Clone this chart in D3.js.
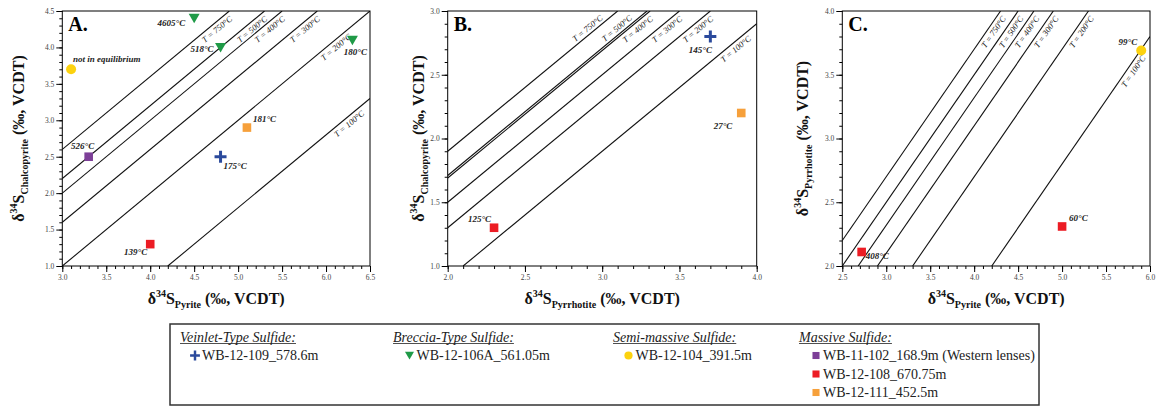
<!DOCTYPE html>
<html>
<head>
<meta charset="utf-8">
<script src="https://cdn.jsdelivr.net/npm/d3@7"></script>
<style>
  body { margin: 0; background: #fff; }
  svg { display: block; font-family: "Liberation Serif", "Times New Roman", serif; }
</style>
</head>
<body>
<div id="chart"></div>
<script>
(function () {
    // ---- panel A : pyrite vs chalcopyrite
    var xTicksA = [3.0, 3.5, 4.0, 4.5, 5.0, 5.5, 6.0, 6.5];
    var yTicksA = [1.0, 1.5, 2.0, 2.5, 3.0, 3.5, 4.0, 4.5];
    var isoTempA = [750, 500, 400, 300, 200, 100];
    var isoDeltaA = [0.4, 0.8, 1.0, 1.4, 2.0, 3.2];
    var labelBackA = [0, 0, 0, 0, 28, 0];
    var pointsA = [
        {x: 3.1, y: 3.7, s: "semi", label: "not in equilibrium"},
        {x: 3.3, y: 2.5, s: "west", label: "526°C"},
        {x: 4.5, y: 4.4, s: "breccia", label: "4605°C"},
        {x: 4.8, y: 4.0, s: "breccia", label: "518°C"},
        {x: 6.3, y: 4.1, s: "breccia", label: "180°C"},
        {x: 4.8, y: 2.5, s: "vein", label: "175°C"},
        {x: 5.1, y: 2.9, s: "wb111", label: "181°C"},
        {x: 4.0, y: 1.3, s: "wb108", label: "139°C"}
    ];
    var labelPosA = [[2, -7, "start"], [-6, -8, "middle"], [-9, 8, "end"], [-7, 5, "end"],
                     [3, 15, "middle"], [3, 12, "start"], [6, -6, "start"], [-3, 11, "end"]];

    // ---- panel B : pyrrhotite vs chalcopyrite
    var xTicksB = [2.0, 2.5, 3.0, 3.5, 4.0];
    var yTicksB = [1.0, 1.5, 2.0, 2.5, 3.0];
    var isoTempB = [750, 500, 400, 300, 200, 100];
    var isoDeltaB = [0.1, 0.29, 0.31, 0.5, 0.7, 1.1];
    var labelSideB = [-1, -1, 1, 1, 1, 1];
    var pointsB = [
        {x: 3.7, y: 2.8, s: "vein", label: "145°C"},
        {x: 3.9, y: 2.2, s: "wb111", label: "27°C"},
        {x: 2.3, y: 1.3, s: "wb108", label: "125°C"}
    ];
    var labelPosB = [[-10, 16, "middle"], [-9, 16, "end"], [-3, -6, "end"]];

    // ---- panel C : pyrite vs pyrrhotite
    var xTicksC = [2.5, 3.0, 3.5, 4.0, 4.5, 5.0, 5.5, 6.0];
    var yTicksC = [2.0, 2.5, 3.0, 3.5, 4.0];
    var isoTempC = [750, 500, 400, 300, 200, 100];
    var isoDeltaC = [0.3, 0.5, 0.68, 0.9, 1.3, 2.2];
    var pointsC = [
        {x: 2.72, y: 2.11, s: "wb108", label: "408°C"},
        {x: 5.0, y: 2.31, s: "wb108", label: "60°C"},
        {x: 5.9, y: 3.69, s: "semi", label: "99°C"}
    ];
    var labelPosC = [[4, 7, "start"], [7, -5, "start"], [-4, -6, "end"]];

    // ---- legend
    var legendHeads = ["Veinlet-Type Sulfide:", "Breccia-Type Sulfide:", "Semi-massive Sulfide:", "Massive Sulfide:"];
    var legendItems = [
        ["vein"], ["breccia"], ["semi"], ["west", "wb108", "wb111"]
    ];
    var seriesNames = {
        vein: "WB-12-109_578.6m",
        breccia: "WB-12-106A_561.05m",
        semi: "WB-12-104_391.5m",
        west: "WB-11-102_168.9m (Western lenses)",
        wb108: "WB-12-108_670.75m",
        wb111: "WB-12-111_452.5m"
    };

    var colors = {
        vein: "#2b4a9c", breccia: "#1f9a47", semi: "#fcd20f",
        west: "#7d3f98", wb108: "#ec1c24", wb111: "#f6a03b"
    };

    var width = 1157, height = 409;

    var svg = d3.select("#chart").append("svg")
        .attr("width", width)
        .attr("height", height);

    function drawMarker(g, s, big) {
        var k = big ? 1 : 0.82;
        if (s === "vein") {
            g.append("path").attr("d", "M" + (-6 * k) + ",0H" + (6 * k) + "M0," + (-6 * k) + "V" + (6 * k))
                .attr("stroke", colors[s]).attr("stroke-width", 3 * k).attr("fill", "none");
        } else if (s === "breccia") {
            g.append("path").attr("d", "M" + (-5.5 * k) + "," + (-4.5 * k) + "L" + (5.5 * k) + "," + (-4.5 * k) + "L0," + (5 * k) + "Z")
                .attr("fill", colors[s]);
        } else if (s === "semi") {
            g.append("circle").attr("r", 5 * k).attr("fill", colors[s]);
        } else {
            g.append("rect").attr("x", -4.3 * k).attr("y", -4.3 * k)
                .attr("width", 8.6 * k).attr("height", 8.6 * k).attr("fill", colors[s]);
        }
    }

    function drawPanel(opt) {
        var x = d3.scaleLinear().domain([opt.xTicks[0], opt.xTicks[opt.xTicks.length - 1]])
            .range([opt.left, opt.right]);
        var y = d3.scaleLinear().domain([opt.yTicks[0], opt.yTicks[opt.yTicks.length - 1]])
            .range([opt.bottom, opt.top]);
        var g = svg.append("g");
        var clipId = "clip" + opt.letter;

        g.append("clipPath").attr("id", clipId).append("rect")
            .attr("x", opt.left).attr("y", opt.top)
            .attr("width", opt.right - opt.left).attr("height", opt.bottom - opt.top);

        // minor + major ticks
        var xd = x.domain(), yd = y.domain();
        var xMinor = d3.range(Math.round(xd[0] * 10), Math.round(xd[1] * 10) + 1).map(function (d) { return d / 10; });
        var yMinor = d3.range(Math.round(yd[0] * 10), Math.round(yd[1] * 10) + 1).map(function (d) { return d / 10; });

        function styleAxis(sel) {
            sel.select(".domain").remove();
            sel.selectAll("line").attr("stroke", "#000");
            sel.selectAll("text").attr("fill", "#444").style("font-size", "7.5px")
                .style("font-family", "'Liberation Serif', serif");
        }

        g.append("g").attr("transform", "translate(0," + opt.bottom + ")")
            .call(d3.axisBottom(x).tickValues(xMinor).tickSize(3).tickFormat(""))
            .call(styleAxis);
        g.append("g").attr("transform", "translate(0," + opt.bottom + ")")
            .call(d3.axisBottom(x).tickValues(opt.xTicks).tickSize(6).tickPadding(3).tickFormat(d3.format(".1f")))
            .call(styleAxis);
        g.append("g").attr("transform", "translate(" + opt.left + ",0)")
            .call(d3.axisLeft(y).tickValues(yMinor).tickSize(3).tickFormat(""))
            .call(styleAxis);
        g.append("g").attr("transform", "translate(" + opt.left + ",0)")
            .call(d3.axisLeft(y).tickValues(opt.yTicks).tickSize(6).tickPadding(2).tickFormat(d3.format(".1f")))
            .call(styleAxis);

        // isotherms  (y = x - delta)
        var lines = g.append("g").attr("clip-path", "url(#" + clipId + ")");
        opt.isoDelta.forEach(function (dlt, i) {
            var x0 = Math.max(xd[0], yd[0] + dlt), x1 = Math.min(xd[1], yd[1] + dlt);
            var p0 = [x(x0), y(x0 - dlt)], p1 = [x(x1), y(x1 - dlt)];
            lines.append("line")
                .attr("x1", p0[0]).attr("y1", p0[1]).attr("x2", p1[0]).attr("y2", p1[1])
                .attr("stroke", "#111").attr("stroke-width", 1.1);

            var len = Math.hypot(p1[0] - p0[0], p1[1] - p0[1]);
            var u = [(p1[0] - p0[0]) / len, (p1[1] - p0[1]) / len];
            var n = [-u[1], u[0]];
            var side = opt.labelSide ? opt.labelSide[i] : 1;
            var atTop = (yd[1] + dlt) <= xd[1];
            var back = atTop ? (side > 0 ? 3 : 16) : opt.rightBack;
            if (opt.labelBack) back += opt.labelBack[i];
            var off = side > 0 ? 9 : -3;
            var px = p1[0] - u[0] * back + n[0] * off;
            var py = p1[1] - u[1] * back + n[1] * off;
            var ang = Math.atan2(u[1], u[0]) * 180 / Math.PI;
            g.append("text")
                .attr("transform", "translate(" + px + "," + py + ") rotate(" + ang + ")")
                .attr("text-anchor", "end")
                .style("font-style", "italic").style("font-size", "8.5px")
                .attr("fill", "#222")
                .text("T = " + opt.isoTemp[i] + "°C");
        });

        // frame
        g.append("rect")
            .attr("x", opt.left).attr("y", opt.top)
            .attr("width", opt.right - opt.left).attr("height", opt.bottom - opt.top)
            .attr("fill", "none").attr("stroke", "#000").attr("stroke-width", 1);

        // points
        opt.points.forEach(function (d, i) {
            var m = g.append("g").attr("transform", "translate(" + x(d.x) + "," + y(d.y) + ")");
            drawMarker(m, d.s, true);
            var lp = opt.labelPos[i];
            g.append("text")
                .attr("x", x(d.x) + lp[0]).attr("y", y(d.y) + lp[1])
                .attr("text-anchor", lp[2])
                .style("font-style", "italic").style("font-weight", "bold").style("font-size", "9px")
                .attr("fill", "#222")
                .text(d.label);
        });

        // panel letter
        g.append("text").attr("x", opt.left + 6).attr("y", 31)
            .style("font-weight", "bold").style("font-size", "20px")
            .text(opt.letter + ".");

        // axis titles
        function title(sel, sub) {
            sel.style("font-weight", "bold").style("font-size", "16px").attr("fill", "#111");
            sel.append("tspan").text("δ");
            sel.append("tspan").attr("dy", -7).style("font-size", "10px").text("34");
            sel.append("tspan").attr("dy", 7).text("S");
            sel.append("tspan").attr("dy", 4).style("font-size", "10px").text(sub);
            sel.append("tspan").attr("dy", -4).text(" (‰, VCDT)");
        }
        g.append("text").attr("x", (opt.left + opt.right) / 2).attr("y", 304)
            .attr("text-anchor", "middle").call(title, opt.xSub);
        g.append("text")
            .attr("transform", "translate(" + opt.yTitleX + "," + ((opt.top + opt.bottom) / 2) + ") rotate(-90)")
            .attr("text-anchor", "middle").call(title, opt.ySub);
    }

    drawPanel({letter: "A", left: 62.3, right: 370, top: 11, bottom: 266, yTitleX: 24, rightBack: 14,
        xTicks: xTicksA, yTicks: yTicksA, isoTemp: isoTempA, isoDelta: isoDeltaA, labelBack: labelBackA,
        points: pointsA, labelPos: labelPosA, xSub: "Pyrite", ySub: "Chalcopyrite"});
    drawPanel({letter: "B", left: 447.7, right: 756.7, top: 11, bottom: 266, yTitleX: 424, rightBack: 14,
        xTicks: xTicksB, yTicks: yTicksB, isoTemp: isoTempB, isoDelta: isoDeltaB, labelSide: labelSideB,
        points: pointsB, labelPos: labelPosB, xSub: "Pyrrhotite", ySub: "Chalcopyrite"});
    drawPanel({letter: "C", left: 842.3, right: 1150, top: 11, bottom: 266, yTitleX: 808, rightBack: 20,
        xTicks: xTicksC, yTicks: yTicksC, isoTemp: isoTempC, isoDelta: isoDeltaC,
        points: pointsC, labelPos: labelPosC, xSub: "Pyrite", ySub: "Pyrrhotite"});

    // ---- legend box
    var lg = svg.append("g");
    lg.append("rect").attr("x", 170).attr("y", 324).attr("width", 869).attr("height", 81)
        .attr("fill", "none").attr("stroke", "#333").attr("stroke-width", 1.5);

    var colX = [180, 393, 613, 799];
    var symX = [195, 409.5, 628.5, 816];
    var rowY = [360, 378.5, 397];

    legendHeads.forEach(function (h, i) {
        var t = lg.append("text").attr("x", colX[i]).attr("y", 341.5)
            .style("font-style", "italic").style("font-size", "14px").attr("fill", "#222")
            .text(h);
        var w = t.node().getComputedTextLength();
        lg.append("line").attr("x1", colX[i]).attr("x2", colX[i] + w)
            .attr("y1", 343.5).attr("y2", 343.5).attr("stroke", "#222").attr("stroke-width", 0.8);

        legendItems[i].forEach(function (s, j) {
            var m = lg.append("g").attr("transform", "translate(" + symX[i] + "," + (rowY[j] - 4.5) + ")");
            drawMarker(m, s, false);
            lg.append("text").attr("x", symX[i] + 7).attr("y", rowY[j])
                .style("font-size", "14px").attr("fill", "#222")
                .text(seriesNames[s]);
        });
    });
})();
</script>
</body>
</html>
